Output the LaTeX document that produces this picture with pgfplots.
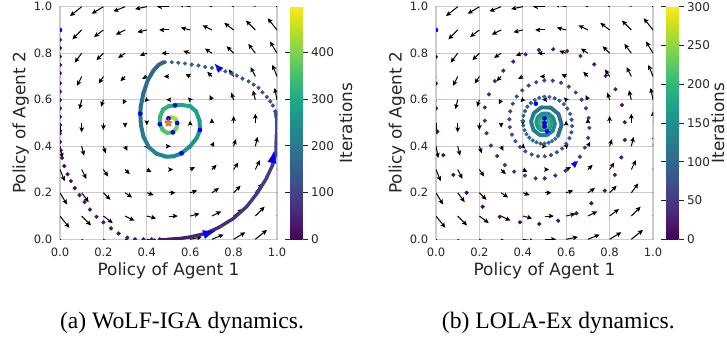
\documentclass[border=0pt]{standalone}
\usepackage{fontspec}
\setmainfont{DejaVu Sans}
\newfontfamily\capfont{Liberation Serif}
\usepackage{pgfplots}
\usepackage{pgfplotstable}
\pgfplotsset{compat=1.18}
\pgfplotsset{/pgf/number format/assume math mode=true}
\usetikzlibrary{arrows.meta}
\definecolor{gridc}{HTML}{CCCCCC}
\definecolor{txt}{HTML}{262626}
\definecolor{starc}{HTML}{D9534F}
\newcommand\ticksize{\fontsize{11.5}{13}\selectfont}
\newcommand\cbticksize{\fontsize{12}{14}\selectfont}
\newcommand\labsize{\fontsize{16.9}{19}\selectfont}
\pgfdeclareplotmark{fstar}{%
  \pgfpathmoveto{\pgfpoint{0\pgfplotmarksize}{1\pgfplotmarksize}}%
  \pgfpathlineto{\pgfpoint{-0.235\pgfplotmarksize}{0.324\pgfplotmarksize}}%
  \pgfpathlineto{\pgfpoint{-0.951\pgfplotmarksize}{0.309\pgfplotmarksize}}%
  \pgfpathlineto{\pgfpoint{-0.380\pgfplotmarksize}{-0.124\pgfplotmarksize}}%
  \pgfpathlineto{\pgfpoint{-0.588\pgfplotmarksize}{-0.809\pgfplotmarksize}}%
  \pgfpathlineto{\pgfpoint{0\pgfplotmarksize}{-0.4\pgfplotmarksize}}%
  \pgfpathlineto{\pgfpoint{0.588\pgfplotmarksize}{-0.809\pgfplotmarksize}}%
  \pgfpathlineto{\pgfpoint{0.380\pgfplotmarksize}{-0.124\pgfplotmarksize}}%
  \pgfpathlineto{\pgfpoint{0.951\pgfplotmarksize}{0.309\pgfplotmarksize}}%
  \pgfpathlineto{\pgfpoint{0.235\pgfplotmarksize}{0.324\pgfplotmarksize}}%
  \pgfpathclose
  \pgfusepathqfillstroke}

% vector field: x y u v
\pgfplotstableread{
x y u v
0 0 0.0539 -0.0505
0.1 0 0.0539 -0.0404
0.2 0 0.0539 -0.0303
0.3 0 0.0539 -0.0202
0.4 0 0.0539 -0.0101
0.5 0 0.0539 0
0.6 0 0.0539 0.0101
0.7 0 0.0539 0.0202
0.8 0 0.0539 0.0303
0.9 0 0.0539 0.0404
1 0 0.0539 0.0505
0 0.1 0.0431 -0.0505
0.1 0.1 0.0431 -0.0404
0.2 0.1 0.0431 -0.0303
0.3 0.1 0.0431 -0.0202
0.4 0.1 0.0431 -0.0101
0.5 0.1 0.0431 0
0.6 0.1 0.0431 0.0101
0.7 0.1 0.0431 0.0202
0.8 0.1 0.0431 0.0303
0.9 0.1 0.0431 0.0404
1 0.1 0.0431 0.0505
0 0.2 0.0323 -0.0505
0.1 0.2 0.0323 -0.0404
0.2 0.2 0.0323 -0.0303
0.3 0.2 0.0323 -0.0202
0.4 0.2 0.0323 -0.0101
0.5 0.2 0.0323 0
0.6 0.2 0.0323 0.0101
0.7 0.2 0.0323 0.0202
0.8 0.2 0.0323 0.0303
0.9 0.2 0.0323 0.0404
1 0.2 0.0323 0.0505
0 0.3 0.0216 -0.0505
0.1 0.3 0.0216 -0.0404
0.2 0.3 0.0216 -0.0303
0.3 0.3 0.0216 -0.0202
0.4 0.3 0.0216 -0.0101
0.5 0.3 0.0216 0
0.6 0.3 0.0216 0.0101
0.7 0.3 0.0216 0.0202
0.8 0.3 0.0216 0.0303
0.9 0.3 0.0216 0.0404
1 0.3 0.0216 0.0505
0 0.4 0.0108 -0.0505
0.1 0.4 0.0108 -0.0404
0.2 0.4 0.0108 -0.0303
0.3 0.4 0.0108 -0.0202
0.4 0.4 0.0108 -0.0101
0.5 0.4 0.0108 0
0.6 0.4 0.0108 0.0101
0.7 0.4 0.0108 0.0202
0.8 0.4 0.0108 0.0303
0.9 0.4 0.0108 0.0404
1 0.4 0.0108 0.0505
0 0.5 0 -0.0505
0.1 0.5 0 -0.0404
0.2 0.5 0 -0.0303
0.3 0.5 0 -0.0202
0.4 0.5 0 -0.0101
0.6 0.5 0 0.0101
0.7 0.5 0 0.0202
0.8 0.5 0 0.0303
0.9 0.5 0 0.0404
1 0.5 0 0.0505
0 0.6 -0.0108 -0.0505
0.1 0.6 -0.0108 -0.0404
0.2 0.6 -0.0108 -0.0303
0.3 0.6 -0.0108 -0.0202
0.4 0.6 -0.0108 -0.0101
0.5 0.6 -0.0108 0
0.6 0.6 -0.0108 0.0101
0.7 0.6 -0.0108 0.0202
0.8 0.6 -0.0108 0.0303
0.9 0.6 -0.0108 0.0404
1 0.6 -0.0108 0.0505
0 0.7 -0.0216 -0.0505
0.1 0.7 -0.0216 -0.0404
0.2 0.7 -0.0216 -0.0303
0.3 0.7 -0.0216 -0.0202
0.4 0.7 -0.0216 -0.0101
0.5 0.7 -0.0216 0
0.6 0.7 -0.0216 0.0101
0.7 0.7 -0.0216 0.0202
0.8 0.7 -0.0216 0.0303
0.9 0.7 -0.0216 0.0404
1 0.7 -0.0216 0.0505
0 0.8 -0.0323 -0.0505
0.1 0.8 -0.0323 -0.0404
0.2 0.8 -0.0323 -0.0303
0.3 0.8 -0.0323 -0.0202
0.4 0.8 -0.0323 -0.0101
0.5 0.8 -0.0323 0
0.6 0.8 -0.0323 0.0101
0.7 0.8 -0.0323 0.0202
0.8 0.8 -0.0323 0.0303
0.9 0.8 -0.0323 0.0404
1 0.8 -0.0323 0.0505
0 0.9 -0.0431 -0.0505
0.1 0.9 -0.0431 -0.0404
0.2 0.9 -0.0431 -0.0303
0.3 0.9 -0.0431 -0.0202
0.4 0.9 -0.0431 -0.0101
0.5 0.9 -0.0431 0
0.6 0.9 -0.0431 0.0101
0.7 0.9 -0.0431 0.0202
0.8 0.9 -0.0431 0.0303
0.9 0.9 -0.0431 0.0404
1 0.9 -0.0431 0.0505
0 1 -0.0539 -0.0505
0.1 1 -0.0539 -0.0404
0.2 1 -0.0539 -0.0303
0.3 1 -0.0539 -0.0202
0.4 1 -0.0539 -0.0101
0.5 1 -0.0539 0
0.6 1 -0.0539 0.0101
0.7 1 -0.0539 0.0202
0.8 1 -0.0539 0.0303
0.9 1 -0.0539 0.0404
1 1 -0.0539 0.0505
}\fieldtab

% WoLF-IGA: sparse early iterations
\pgfplotstableread{
x y c
0 0.900 0
0 0.858 1
0 0.822 2
0 0.786 3
0 0.750 4
0 0.714 5
0 0.671 6
0 0.635 7
0 0.599 8
0 0.563 9
0 0.527 10
0 0.491 11
0 0.455 12
0 0.419 13
0.003 0.383 14
0.010 0.350 15
0.020 0.315 16
0.035 0.280 17
0.050 0.250 18
0.068 0.220 19
0.090 0.190 20
0.113 0.160 21
0.138 0.128 22
0.168 0.097 23
0.200 0.073 24
0.235 0.047 25
0.270 0.025 26
0.310 0.007 27
0.346 0.000 28
0.385 0.000 29
0.423 0.000 30
0.460 0.000 31
}\wolfA
% WoLF-IGA: bottom/right arc
\pgfplotstableread{
x y c
0.460 0.000 31
0.494 0.000 32
0.550 0.003 38
0.600 0.010 45
0.670 0.025 53
0.730 0.050 60
0.800 0.090 68
0.860 0.140 76
0.910 0.200 83
0.950 0.260 89
0.980 0.320 95
0.995 0.370 100
0.997 0.450 108
0.997 0.520 115
0.993 0.550 120
}\wolfB
% WoLF-IGA: top arc (sparse)
\pgfplotstableread{
x y c
0.992 0.550 120
0.981 0.575 122
0.969 0.593 124
0.953 0.612 126
0.933 0.632 128
0.915 0.651 130
0.892 0.665 132
0.869 0.679 134
0.841 0.691 136
0.815 0.704 138
0.792 0.712 140
0.762 0.722 142
0.731 0.730 144
0.700 0.737 146
0.669 0.741 148
0.638 0.747 150
0.607 0.751 152
0.576 0.756 154
0.545 0.759 156
0.515 0.761 158
0.484 0.761 160
}\wolfC
% WoLF-IGA: inner spiral
\pgfplotstableread{
x y c
0.477 0.761 160
0.455 0.750 163
0.430 0.725 167
0.405 0.685 172
0.385 0.630 178
0.372 0.570 185
0.370 0.540 188
0.373 0.490 195
0.385 0.440 202
0.410 0.395 210
0.445 0.368 218
0.490 0.355 226
0.525 0.357 232
0.560 0.370 240
0.600 0.400 248
0.630 0.435 255
0.645 0.470 262
0.643 0.510 272
0.627 0.550 282
0.600 0.572 290
0.560 0.578 298
0.530 0.576 305
0.500 0.572 312
0.475 0.558 320
0.462 0.530 330
0.460 0.495 340
0.473 0.470 350
0.495 0.457 360
0.520 0.460 370
0.537 0.478 390
0.540 0.500 410
0.532 0.518 425
0.515 0.525 435
0.500 0.520 445
0.492 0.510 455
0.493 0.500 465
0.500 0.495 475
0.505 0.500 490
}\wolfD

% LOLA-Ex: sparse iterations
\pgfplotstableread{
x y c
0 0.900 0
0 0.785 1
0 0.670 2
0 0.563 3
0.006 0.463 4
0.034 0.362 5
0.080 0.277 6
0.141 0.200 7
0.215 0.140 8
0.294 0.097 9
0.387 0.073 10
0.476 0.066 11
0.563 0.080 12
0.647 0.112 13
0.716 0.155 14
0.778 0.209 15
0.824 0.277 16
0.854 0.352 17
0.870 0.427 18
0.870 0.503 19
0.857 0.577 20
0.827 0.645 21
0.782 0.703 22
0.729 0.752 23
0.666 0.788 24
0.604 0.809 25
0.540 0.817 26
0.474 0.814 27
0.413 0.795 28
0.356 0.764 29
0.310 0.725 30
0.271 0.680 31
0.244 0.623 32
0.225 0.567 33
0.225 0.510 34
0.233 0.456 35
0.253 0.403 36
0.282 0.358 37
0.317 0.319 38
0.360 0.291 39
0.410 0.274 40
0.459 0.262 41
0.501 0.262 42
0.550 0.274 43
0.597 0.295 44
0.640 0.327 45
0.663 0.355 46
0.686 0.394 47
0.701 0.436 48
0.707 0.479 49
0.703 0.522 50
0.691 0.563 51
0.671 0.600 52
0.644 0.631 53
0.612 0.656 54
0.576 0.673 55
0.538 0.682 56
0.499 0.683 57
0.462 0.675 58
0.427 0.661 59
0.397 0.640 60
0.372 0.614 61
0.354 0.583 62
0.342 0.550 63
0.338 0.516 64
0.340 0.482 65
0.350 0.450 66
0.366 0.422 67
0.387 0.397 68
0.412 0.378 69
0.441 0.365 70
0.470 0.357 71
0.501 0.357 72
0.530 0.362 73
0.557 0.374 74
0.581 0.390 75
0.600 0.411 76
0.615 0.435 77
0.624 0.460 78
0.627 0.487 79
0.625 0.514 80
0.618 0.539 81
0.605 0.562 82
0.589 0.581 83
0.569 0.596 84
0.547 0.606 85
0.523 0.612 86
0.499 0.613 87
0.476 0.608 88
0.455 0.599 89
0.437 0.586 90
0.421 0.570 91
0.410 0.551 92
0.403 0.531 93
0.400 0.510 94
0.402 0.489 95
0.408 0.469 96
0.417 0.452 97
0.430 0.437 98
0.446 0.425 99
0.463 0.417 100
0.482 0.412 101
0.500 0.412 102
0.519 0.415 103
0.535 0.422 104
0.550 0.432 105
0.562 0.445 106
}\lolaA
% LOLA-Ex: dense inner rings
\pgfplotstableread{
x y c
0.562 0.445 106
0.579 0.492 109
0.565 0.538 112
0.529 0.566 115
0.485 0.567 118
0.451 0.543 121
0.438 0.506 124
0.449 0.470 127
0.477 0.449 130
0.511 0.448 133
0.538 0.466 136
0.548 0.495 139
0.540 0.523 142
0.518 0.540 145
0.491 0.541 148
0.470 0.527 151
0.462 0.504 154
0.469 0.482 157
0.486 0.468 160
0.507 0.468 163
0.524 0.479 166
0.530 0.497 169
0.525 0.514 172
0.511 0.525 175
0.494 0.525 178
0.482 0.516 181
0.477 0.502 184
0.481 0.489 187
0.491 0.480 190
0.504 0.480 193
0.514 0.487 196
0.518 0.498 199
0.515 0.509 202
0.507 0.515 205
0.497 0.516 208
0.489 0.510 211
0.486 0.501 214
0.488 0.493 217
0.495 0.488 220
0.503 0.488 223
0.509 0.492 226
0.508 0.500 240
0.503 0.505 255
0.497 0.503 270
0.498 0.498 285
0.500 0.500 300
}\lolaB

\pgfplotsset{
  myax/.style={
    scale only axis, width=217pt, height=232.6pt,
    xmin=0, xmax=1, ymin=0, ymax=1,
    xtick={0,0.2,0.4,0.6,0.8,1}, ytick={0,0.2,0.4,0.6,0.8,1},
    xticklabel={\pgfmathprintnumber[fixed,fixed zerofill,precision=1]{\tick}},
    yticklabel={\pgfmathprintnumber[fixed,fixed zerofill,precision=1]{\tick}},
    tick label style={font=\ticksize, text=txt},
    xticklabel style={anchor=base, yshift=-17.4pt},
    yticklabel style={xshift=-4.3pt},
    grid=major, major grid style={gridc, line width=1pt},
    axis line style={gridc, line width=1.2pt},
    tick style={draw=none},
    xlabel={Policy of Agent 1}, ylabel={Policy of Agent 2},
    label style={font=\labsize, text=txt},
    xlabel style={at={(axis description cs:0.5,-0.154)}, anchor=base},
    ylabel style={at={(axis description cs:-0.159,0.5)}, anchor=base},
    clip marker paths=true,
    colormap/viridis,
    colorbar,
    colorbar style={
      at={(parent axis.north east)}, anchor=north west, xshift=4.5pt,
      scale only axis, width=12.5pt, height=232.6pt,
      axis line style={draw=none},
      yticklabel pos=right,
      tick align=outside, major tick length=5pt,
      ytick style={draw=txt, line width=0.9pt},
      yticklabel style={font=\cbticksize, text=txt},
    },
  },
  fieldstyle/.style={black, line width=1pt, -{Stealth[length=5pt, width=4.6pt, inset=1pt]},
    quiver={u=\thisrow{u}, v=\thisrow{v}}},
  dots/.style={scatter, only marks, mark=*, mark size=1.9pt, scatter src=explicit,
    scatter/use mapped color={draw=mapped color, fill=mapped color}},
}

\begin{document}
\begin{tikzpicture}
\useasboundingbox (0pt,0pt) rectangle (727pt,339pt);

% ---------------- (a) WoLF-IGA ----------------
\begin{axis}[myax, at={(60pt,99.7pt)}, anchor=south west,
  point meta min=0, point meta max=498,
  colorbar style={ytick={0,100,200,300,400}}]
\addplot[fieldstyle] table {\fieldtab};
\addplot[dots] table[meta=c] {\wolfA};
\addplot[mesh, point meta=explicit, line width=3.4pt, line cap=round] table[meta=c] {\wolfB};
\addplot[dots] table[meta=c] {\wolfC};
\addplot[mesh, point meta=explicit, line width=4pt, line cap=round] table[meta=c] {\wolfD};
\addplot[only marks, mark=*, mark size=2.1pt, blue] coordinates {
  (0,0.9) (0.370,0.540) (0.560,0.370) (0.645,0.470) (0.530,0.576)
  (0.460,0.495) (0.520,0.460) (0.540,0.500) (0.500,0.520)};
\addplot[blue, line width=0.2pt, -{Latex[length=12pt, width=9pt]},
  quiver={u=\thisrow{u}, v=\thisrow{v}}] table {
x y u v
0.660 0.020 0.055 0.015
0.975 0.320 0.012 0.060
};
\addplot[blue, line width=0.2pt, -{Latex[length=9pt, width=7pt]},
  quiver={u=\thisrow{u}, v=\thisrow{v}}] table {
x y u v
0.745 0.722 -0.033 0.033
};
\addplot[only marks, mark=fstar, mark size=4pt, mark options={draw=starc, fill=starc, fill opacity=0.6, line width=0.5pt}] coordinates {(0.5,0.5)};
\end{axis}

% ---------------- (b) LOLA-Ex ----------------
\begin{axis}[myax, at={(436pt,99.7pt)}, anchor=south west,
  point meta min=0, point meta max=300,
  colorbar style={ytick={0,50,100,150,200,250,300}}]
\addplot[fieldstyle] table {\fieldtab};
\addplot[dots] table[meta=c] {\lolaA};
\addplot[mesh, point meta=explicit, line width=3.9pt, line cap=round] table[meta=c] {\lolaB};
\addplot[only marks, mark=fstar, mark size=4pt, mark options={draw=starc, fill=starc, fill opacity=0.6, line width=0.5pt}] coordinates {(0.5,0.5)};
\addplot[only marks, mark=*, mark size=2.1pt, blue] coordinates {
  (0,0.9) (0.460,0.583) (0.500,0.520) (0.500,0.500) (0.500,0.485) (0.512,0.464)};
\addplot[blue, line width=0.2pt, -{Latex[length=7pt, width=6pt]},
  quiver={u=\thisrow{u}, v=\thisrow{v}}] table {
x y u v
0.630 0.315 0.025 0.022
};
\end{axis}

% colorbar titles
\node[rotate=90, font=\labsize, text=txt, inner sep=0pt, anchor=center] at (345.9pt,216pt) {Iterations};
\node[rotate=90, font=\labsize, text=txt, inner sep=0pt, anchor=center] at (717.8pt,216pt) {Iterations};

\node[font=\capfont\fontsize{23.6}{26}\selectfont, anchor=base, text=black] at (182pt,10.7pt) {(a) WoLF-IGA dynamics.};
\node[font=\capfont\fontsize{23.6}{26}\selectfont, anchor=base, text=black] at (558.3pt,10.7pt) {(b) LOLA-Ex dynamics.};
\end{tikzpicture}
\end{document}
